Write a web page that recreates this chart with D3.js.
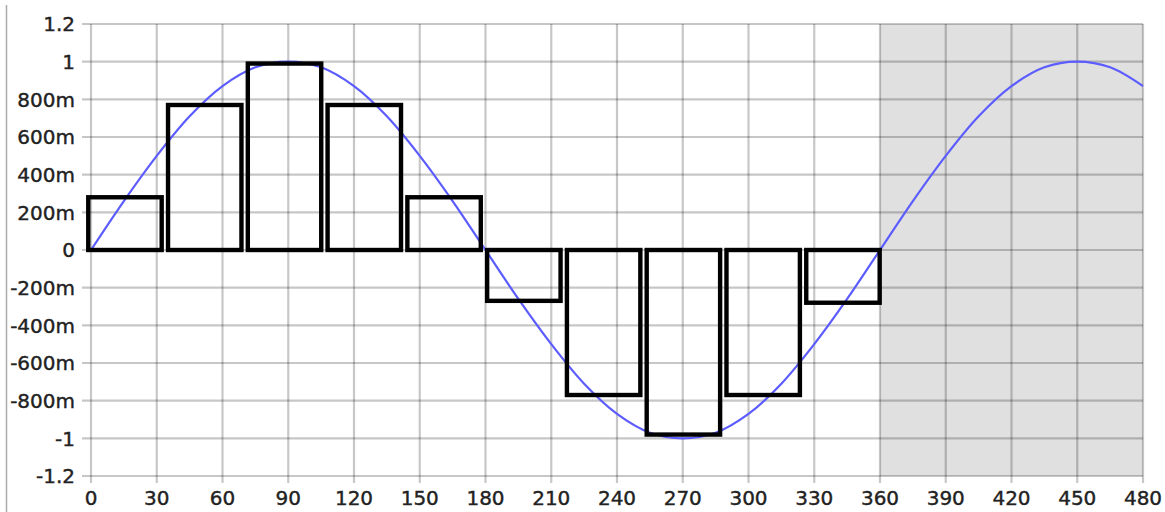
<!DOCTYPE html>
<html>
<head>
<meta charset="utf-8">
<script src="https://cdn.jsdelivr.net/npm/d3@7"></script>
<style>
  body { margin: 0; background: #fff; }
  svg { display: block; font-family: "DejaVu Sans", Verdana, sans-serif; }
  .xlabel, .ylabel { stroke: #222; stroke-width: 0.4px; }
</style>
</head>
<body>
<svg id="chart" width="1165" height="512"></svg>
<script>
const curveX = [0, 15, 30, 45, 60, 75, 90, 105, 120, 135, 150, 165, 180, 195, 210, 225, 240,
  255, 270, 285, 300, 315, 330, 345, 360, 375, 390, 405, 420, 435, 450, 465, 480];
const curveY = [0, 0.26, 0.5, 0.71, 0.87, 0.97, 1, 0.97, 0.87, 0.71, 0.5, 0.26, 0, -0.26, -0.5, -0.71,
  -0.87, -0.97, -1, -0.97, -0.87, -0.71, -0.5, -0.26, 0, 0.26, 0.5, 0.71, 0.87, 0.97, 1, 0.97, 0.87];

// bar centres (degrees) and heights
const barCenters = [15.5, 51.9, 88.3, 124.7, 161.1, 197.5, 233.9, 270.3, 306.7, 343.1];
const barValues = [0.28, 0.77, 0.99, 0.77, 0.28, -0.27, -0.77, -0.98, -0.77, -0.28];

const xTicks = [0, 30, 60, 90, 120, 150, 180, 210, 240, 270, 300, 330, 360, 390, 420, 450, 480];
const yTicks = [-1.2, -1, -0.8, -0.6, -0.4, -0.2, 0, 0.2, 0.4, 0.6, 0.8, 1, 1.2];
const yTickLabels = ["-1.2", "-1", "-800m", "-600m", "-400m", "-200m", "0", "200m", "400m", "600m", "800m", "1", "1.2"];
const shadedRange = [360, 480];

const svg = d3.select('#chart')
const margins = { left: 91, right: 22, top: 24, bottom: 36 }
const width = 1165 - margins.left - margins.right;
const height = 512 - margins.top - margins.bottom;
const barWidth = 33.5; // degrees

// page border line on the left
svg.append('line')
  .attr('x1', 6.5).attr('x2', 6.5)
  .attr('y1', 5).attr('y2', 512)
  .attr('stroke', '#aaa')
  .attr('stroke-width', 1.5)

const g = svg.append('g')
  .attr('transform', `translate(${margins.left},${margins.top})`)

const xScale = d3.scaleLinear().domain([0, 480]).range([0, width])
const yScale = d3.scaleLinear().domain([-1.2, 1.2]).range([height, 0])

// grey shaded region
g.append('rect')
  .attr('x', xScale(shadedRange[0]))
  .attr('y', 0)
  .attr('width', xScale(shadedRange[1]) - xScale(shadedRange[0]))
  .attr('height', height)
  .attr('fill', '#e0e0e0')

// grid lines, which run out past the plot as tick marks
const grid = g.append('g').attr('class', 'grid')
  .attr('stroke', 'rgba(0,0,0,0.22)')
  .attr('stroke-width', 2.2)

grid.selectAll('.vline').data(xTicks)
  .enter().append('line')
  .attr('class', 'vline')
  .attr('x1', d => xScale(d)).attr('x2', d => xScale(d))
  .attr('y1', 0).attr('y2', height + 7)

grid.selectAll('.hline').data(yTicks)
  .enter().append('line')
  .attr('class', 'hline')
  .attr('x1', -9).attr('x2', width)
  .attr('y1', d => yScale(d)).attr('y2', d => yScale(d))

// tick labels
g.selectAll('.xlabel').data(xTicks)
  .enter().append('text')
  .attr('class', 'xlabel')
  .attr('x', d => xScale(d))
  .attr('y', height + 29)
  .attr('text-anchor', 'middle')
  .attr('font-size', 20)
  .attr('fill', '#222')
  .text(d => d)

g.selectAll('.ylabel').data(yTicks)
  .enter().append('text')
  .attr('class', 'ylabel')
  .attr('x', -16)
  .attr('y', d => yScale(d))
  .attr('dy', '0.37em')
  .attr('text-anchor', 'end')
  .attr('font-size', 20)
  .attr('fill', '#222')
  .text((d, i) => yTickLabels[i])

// the sine curve
const line = d3.line()
  .x((d, i) => xScale(curveX[i]))
  .y(d => yScale(d))
  .curve(d3.curveCatmullRom.alpha(0.5))

g.append('path')
  .datum(curveY)
  .attr('d', line)
  .attr('fill', 'none')
  .attr('stroke', '#5c5cff')
  .attr('stroke-width', 2.2)

// outlined bars
g.selectAll('.bar').data(barValues)
  .enter().append('rect')
  .attr('class', 'bar')
  .attr('x', (d, i) => xScale(barCenters[i] - barWidth / 2))
  .attr('width', xScale(barWidth) - xScale(0))
  .attr('y', d => yScale(Math.max(0, d)))
  .attr('height', d => Math.abs(yScale(d) - yScale(0)))
  .attr('fill', 'none')
  .attr('stroke', '#000')
  .attr('stroke-width', 4.4)
</script>
</body>
</html>
